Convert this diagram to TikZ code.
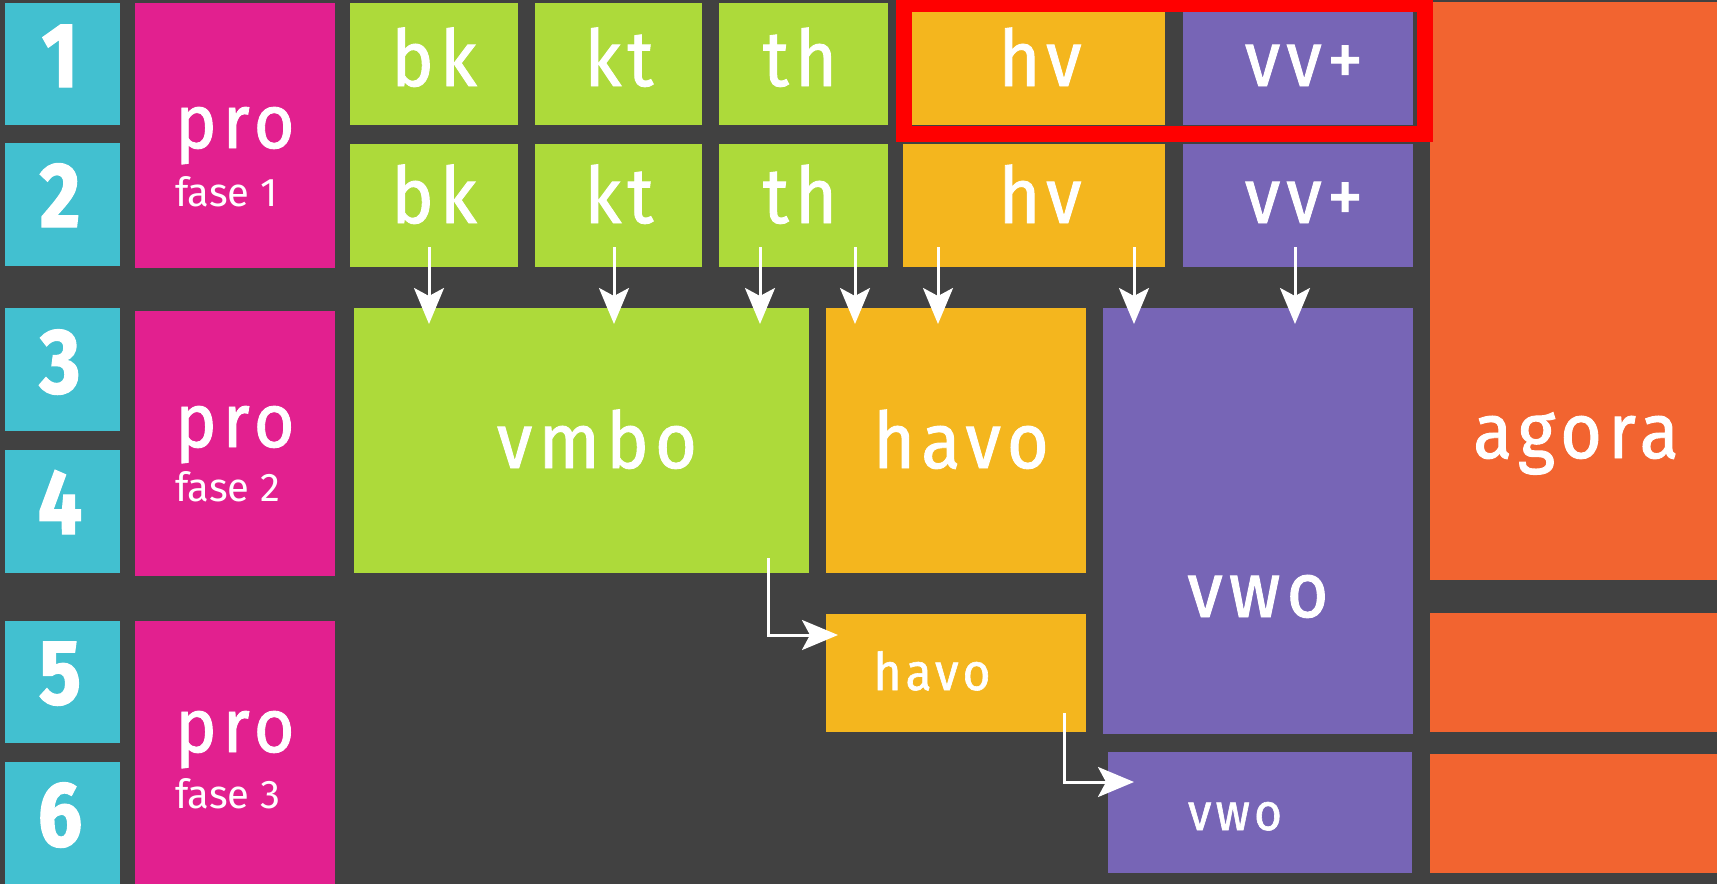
\documentclass[tikz,border=0pt]{standalone}
\usepackage{fontspec}
\setmainfont{Fira Sans}
\newfontfamily\lblfont[LetterSpace=8, FakeStretch=0.92, FakeBold=1.2]{Fira Sans}
\newfontfamily\numfont[FakeStretch=0.85, FakeBold=1.5]{Fira Sans}
\usetikzlibrary{arrows.meta,calc}
\definecolor{bgc}{HTML}{414141}
\definecolor{cyanc}{HTML}{42C0D0}
\definecolor{pinkc}{HTML}{E2208F}
\definecolor{greenc}{HTML}{ADDA3A}
\definecolor{yellowc}{HTML}{F4B61E}
\definecolor{purplec}{HTML}{7765B6}
\definecolor{orangec}{HTML}{F26430}
\definecolor{redc}{HTML}{FF0000}
\begin{document}
\begin{tikzpicture}[x=1pt,y=-1pt,
  box/.style={inner sep=0pt, outer sep=0pt, draw=none},
  lbl/.style={text=white, inner sep=0pt, anchor=base, font=\lblfont\fontsize{78}{84}\selectfont},
  slbl/.style={text=white, inner sep=0pt, anchor=base, font=\lblfont\fontsize{52}{58}\selectfont},
  num/.style={text=white, inner sep=0pt, anchor=base, font=\numfont\bfseries\fontsize{92}{96}\selectfont},
  prot/.style={text=white, inner sep=0pt, anchor=base west, font=\lblfont\fontsize{76}{82}\selectfont},
  faset/.style={text=white, inner sep=0pt, anchor=base west, font=\fontsize{40}{44}\selectfont},
  arr/.style={draw=white, line width=3pt, -{Stealth[length=36pt, width=30pt, inset=8pt]}}]
\useasboundingbox (0,0) rectangle (1717,884);
\fill[bgc] (0,0) rectangle (1717,884);
% row numbers
\node[box, fill=cyanc, minimum width=115pt, minimum height=122pt] (c1) at (62.5,64) {};
\node[box, fill=cyanc, minimum width=115pt, minimum height=123pt] (c2) at (62.5,204.5) {};
\node[box, fill=cyanc, minimum width=115pt, minimum height=123pt] (c3) at (62.5,369.5) {};
\node[box, fill=cyanc, minimum width=115pt, minimum height=123pt] (c4) at (62.5,511.5) {};
\node[box, fill=cyanc, minimum width=115pt, minimum height=122pt] (c5) at (62.5,682) {};
\node[box, fill=cyanc, minimum width=115pt, minimum height=122pt] (c6) at (62.5,823) {};
\node[num] (n1) at (60,87) {1};
\node[num] (n2) at (60,227) {2};
\node[num] (n3) at (60,393) {3};
\node[num] (n4) at (60,534) {4};
\node[num] (n5) at (60,704) {5};
\node[num] (n6) at (60,846) {6};
% pro phases
\node[box, fill=pinkc, minimum width=200pt, minimum height=265pt] (p1) at (235,135.5) {};
\node[box, fill=pinkc, minimum width=200pt, minimum height=265pt] (p2) at (235,443.5) {};
\node[box, fill=pinkc, minimum width=200pt, minimum height=263pt] (p3) at (235,752.5) {};
\node[prot] (pro1) at (175,148) {pro};
\node[faset] (fase1) at (175,206) {fase 1};
\node[prot] (pro2) at (175,447) {pro};
\node[faset] (fase2) at (175,501) {fase 2};
\node[prot] (pro3) at (175,752) {pro};
\node[faset] (fase3) at (175,808) {fase 3};
% row 1 and 2
\node[box, fill=greenc, minimum width=168pt, minimum height=122pt] (bk1) at (434,64) {};
\node[box, fill=greenc, minimum width=167pt, minimum height=122pt] (kt1) at (618.5,64) {};
\node[box, fill=greenc, minimum width=169pt, minimum height=122pt] (th1) at (803.5,64) {};
\node[box, fill=yellowc, minimum width=253pt, minimum height=113pt] (hv1) at (1038.5,68.5) {};
\node[box, fill=purplec, minimum width=230pt, minimum height=113pt] (vv1) at (1298,68.5) {};
\node[box, fill=greenc, minimum width=168pt, minimum height=123pt] (bk2) at (434,205.5) {};
\node[box, fill=greenc, minimum width=167pt, minimum height=123pt] (kt2) at (618.5,205.5) {};
\node[box, fill=greenc, minimum width=169pt, minimum height=123pt] (th2) at (803.5,205.5) {};
\node[box, fill=yellowc, minimum width=262pt, minimum height=123pt] (hv2) at (1034,205.5) {};
\node[box, fill=purplec, minimum width=230pt, minimum height=123pt] (vv2) at (1298,205.5) {};
\node[lbl] (tbk1) at (434,86) {bk};
\node[lbl] (tkt1) at (619,86) {kt};
\node[lbl] (tth1) at (800,86) {th};
\node[lbl] (thv1) at (1040,86) {hv};
\node[lbl] (tvv1) at (1304,86) {vv+};
\node[lbl] (tbk2) at (434,223) {bk};
\node[lbl] (tkt2) at (619,223) {kt};
\node[lbl] (tth2) at (800,223) {th};
\node[lbl] (thv2) at (1040,223) {hv};
\node[lbl] (tvv2) at (1304,223) {vv+};
% middle blocks
\node[box, fill=greenc, minimum width=455pt, minimum height=265pt] (vmbo) at (581.5,440.5) {};
\node[box, fill=yellowc, minimum width=260pt, minimum height=265pt] (havo) at (956,440.5) {};
\node[box, fill=purplec, minimum width=310pt, minimum height=426pt] (vwo) at (1258,521) {};
\node[box, fill=yellowc, minimum width=260pt, minimum height=118pt] (havo2) at (956,673) {};
\node[box, fill=purplec, minimum width=304pt, minimum height=121pt] (vwo2) at (1260,812.5) {};
\node[box, fill=orangec, minimum width=287pt, minimum height=578pt] (agora) at (1573.5,291) {};
\node[box, fill=orangec, minimum width=287pt, minimum height=119pt] (or5) at (1573.5,672.5) {};
\node[box, fill=orangec, minimum width=287pt, minimum height=119pt] (or6) at (1573.5,813.5) {};
\node[lbl] (tvmbo) at (597,468) {vmbo};
\node[lbl] (thavo) at (961,468) {havo};
\node[lbl] (tvwo) at (1258,617) {vwo};
\node[slbl] (thavo2) at (932,690) {havo};
\node[slbl] (tvwo2) at (1235,830) {vwo};
\node[lbl] (tagora) at (1576,458) {agora};
% highlight
\draw[redc, line width=16pt] (904,4) rectangle (1425,134);
% arrows
\draw[arr] ($(bk2.south)+(-5,-20)$) -- ($(bk2.south |- vmbo.north)+(-5,16)$);
\draw[arr] ($(kt2.south)+(-4.5,-20)$) -- ($(kt2.south |- vmbo.north)+(-4.5,16)$);
\draw[arr] ($(th2.south)+(-43.5,-20)$) -- ($(th2.south |- vmbo.north)+(-43.5,16)$);
\draw[arr] ($(th2.south)+(51.5,-20)$) -- ($(th2.south |- havo.north)+(51.5,16)$);
\draw[arr] ($(hv2.south)+(-96,-20)$) -- ($(hv2.south |- havo.north)+(-96,16)$);
\draw[arr] ($(hv2.south)+(100,-20)$) -- ($(hv2.south |- vwo.north)+(100,16)$);
\draw[arr] ($(vv2.south)+(-3,-20)$) -- ($(vv2.south |- vwo.north)+(-3,16)$);
\draw[arr] ($(vmbo.south east)+(-41,-15)$) |- ($(havo2.north west)+(12,21)$);
\draw[arr] ($(havo2.south east)+(-22,-19)$) |- ($(vwo2.north west)+(26,30)$);
\end{tikzpicture}
\end{document}
